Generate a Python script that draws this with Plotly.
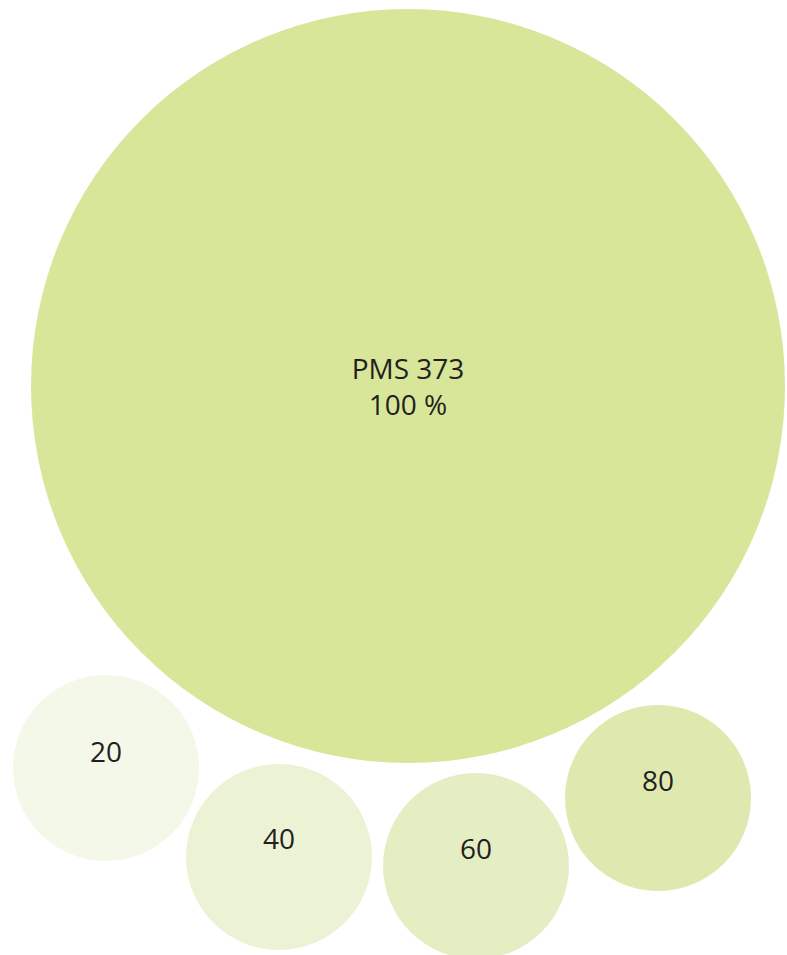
import plotly.graph_objects as go

# ---- data ----
tints = [100, 20, 40, 60, 80]                 # tint percentages
labels = ["PMS 373<br>100 %", "20", "40", "60", "80"]
colors = ["#D8E69A", "#F4F8E8", "#ECF3D5", "#E5EEC3", "#DFE9AF"]

# ---- layout (pixel positions of the circles on the page) ----
cx = [408, 106, 279, 476, 658]
cy = [386, 768, 857, 866, 798]
rad = [377, 93, 93, 93, 93]
label_dy = [4, -13, -15, -14, -14]

W, H = 787, 955

fig = go.Figure()
shapes = []
for x, y, r, c in zip(cx, cy, rad, colors):
    shapes.append(dict(type="circle", xref="x", yref="y",
                       x0=x - r, x1=x + r, y0=y - r, y1=y + r,
                       fillcolor=c, line=dict(width=0), layer="below"))

fig.add_trace(go.Scatter(
    x=cx, y=[y + d for y, d in zip(cy, label_dy)],
    text=labels, mode="text",
    textfont=dict(family="Open Sans", size=28, color="#231F20"),
    hoverinfo="skip", showlegend=False))

fig.update_layout(
    width=W, height=H, margin=dict(l=0, r=0, t=0, b=0),
    paper_bgcolor="white", plot_bgcolor="white",
    shapes=shapes,
    xaxis=dict(range=[0, W], visible=False, fixedrange=True),
    yaxis=dict(range=[H, 0], visible=False, fixedrange=True),
)
fig.write_html("out.html",
               config={"displayModeBar": False, "staticPlot": True},
               post_script="document.body.style.margin='0';document.body.style.overflow='hidden';")
